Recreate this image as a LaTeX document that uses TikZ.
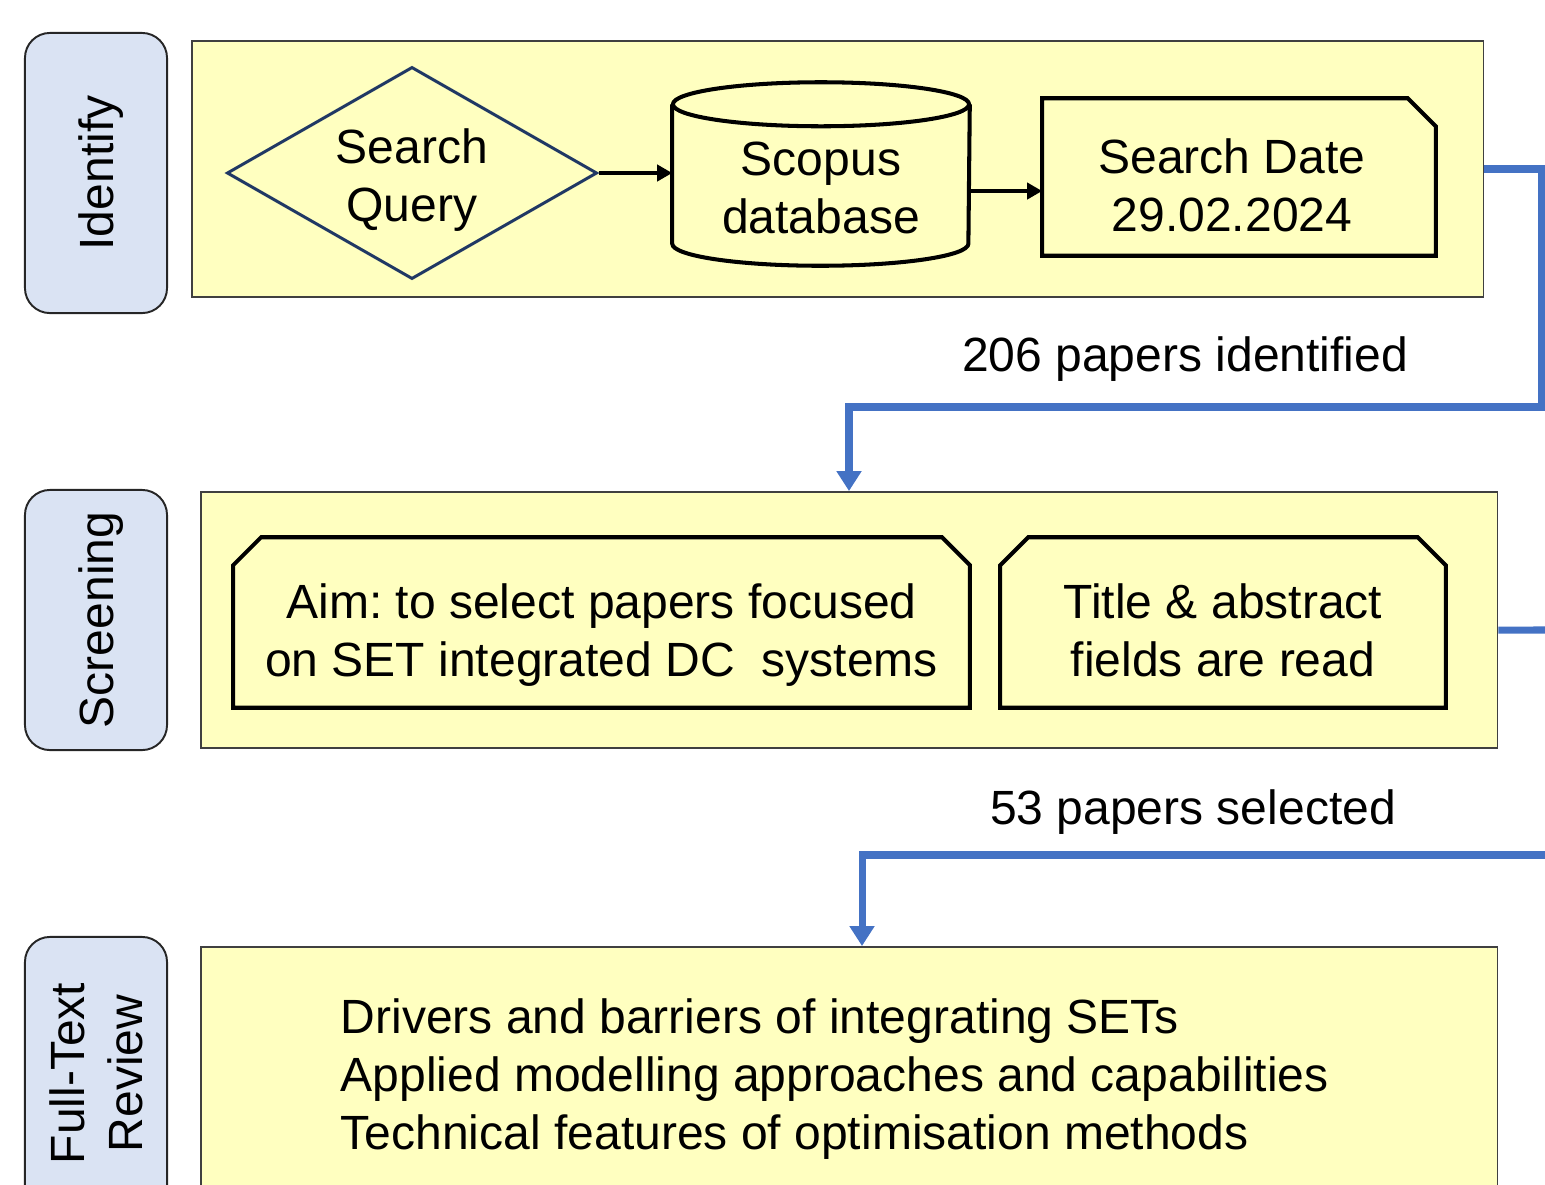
\documentclass[tikz,border=0pt]{standalone}
\usepackage{fontspec}
\setmainfont{Liberation Sans}
\usetikzlibrary{shapes.geometric,arrows.meta}
\definecolor{paneyellow}{HTML}{FFFFC0}
\definecolor{stageblue}{HTML}{DAE3F3}
\definecolor{flowblue}{HTML}{4472C4}
\definecolor{querynavy}{HTML}{203864}
\frenchspacing

\begin{document}
\begin{tikzpicture}[x=0.01cm,y=-0.01cm,
    every node/.style={font=\fontsize{13.66}{16.5}\selectfont},
    stage/.style={draw=black!85,line width=0.55pt,fill=stageblue,rounded corners=0.25cm,rotate=90,align=center,text depth=0pt,minimum height=1.42cm},
    panel/.style={draw=black!75,line width=0.5pt,fill=paneyellow,minimum height=2.56cm},
    boxline/.style={draw=black,line width=1.15pt,fill=paneyellow},
    link/.style={line width=1.1pt,-{Triangle[width=0.16cm,length=0.15cm]}},
    flow/.style={draw=flowblue,line width=2pt,-{Triangle[width=0.24cm,length=0.2cm]}}]
    \useasboundingbox (0,0) rectangle (1545,1184);
    \clip (0,0) rectangle (1545,1184);

    % stages on the left
    \node[stage,minimum width=2.8cm] (identify) at (96,173) {Identify};
    \node[stage,minimum width=2.6cm] (screening) at (96,620) {Screening};
    \node[stage,minimum width=2.73cm] (fulltext) at (96,1073.5) {Full-Text\\Review};

    % panels
    \node[panel,minimum width=12.91cm] (identpanel) at (837.5,169) {};
    \node[panel,minimum width=12.96cm] (screenpanel) at (849,620) {};
    \node[panel,minimum width=12.96cm,minimum height=3.03cm] (reviewpanel) at (849,1098.5) {};

    % identify
    \node[diamond,draw=querynavy,line width=0.85pt,fill=paneyellow,inner sep=0pt,
        minimum width=3.7cm,minimum height=2.12cm] (query) at (412,173) {};
    \node[align=center] at (412,180) {Search\\Query};
    \node[minimum width=2.96cm,minimum height=1.82cm,inner sep=0pt] (scopus) at (821,174) {};
    \draw[boxline] ([yshift=-0.22cm]scopus.north west)
        -- ([yshift=0.22cm]scopus.south west)
        arc[start angle=180,end angle=360,x radius=1.48cm,y radius=0.22cm]
        -- ([yshift=-0.22cm]scopus.north east);
    \draw[boxline] ([yshift=-0.22cm]scopus.north)
        ellipse[x radius=1.48cm,y radius=0.22cm];
    \node[align=center] at (821,188) {Scopus\\database};
    \node[minimum width=3.92cm,minimum height=1.56cm,inner sep=0pt] (date) at (1239,177) {};
    \draw[boxline] (date.south west) -- (date.north west)
        -- ([xshift=-0.28cm]date.north east) -- ([yshift=-0.28cm]date.north east)
        -- (date.south east) -- cycle;
    \node[align=center] at (1232,185) {Search Date\\29.02.2024};
    \draw[link] (query.east) -- (query.east -| scopus.west);
    \draw[link] ([yshift=-0.17cm]scopus.east) -- ([yshift=-0.17cm]scopus.east -| date.west);

    % screening
    \node[minimum width=7.35cm,minimum height=1.69cm,inner sep=0pt] (aim) at (601.5,622.5) {};
    \draw[boxline] (aim.south west) -- ([yshift=-0.28cm]aim.north west)
        -- ([xshift=0.28cm]aim.north west) -- ([xshift=-0.28cm]aim.north east)
        -- ([yshift=-0.28cm]aim.north east) -- (aim.south east) -- cycle;
    \node[align=center] at (601.5,635.5) {Aim: to select papers focused\\on SET integrated DC~ systems};
    \node[minimum width=4.44cm,minimum height=1.69cm,inner sep=0pt] (read) at (1223,622.5) {};
    \draw[boxline] (read.south west) -- ([yshift=-0.28cm]read.north west)
        -- ([xshift=0.28cm]read.north west) -- ([xshift=-0.28cm]read.north east)
        -- ([yshift=-0.28cm]read.north east) -- (read.south east) -- cycle;
    \node[align=center] at (1223,630.5) {Title \& abstract\\fields are read};

    % full-text review
    \node[align=left,anchor=west,inner sep=0pt] (topics) at (340,1079) {Drivers and barriers of integrating SETs\\Applied modelling approaches and capabilities\\Technical features of optimisation methods};

    % flow between stages
    \node (identified) at (1185,359) {206 papers identified};
    \node (selected) at (1193,812) {53 papers selected};
    \coordinate (turn1) at (1541,407);
    \coordinate (exit2) at (1560,630);
    \coordinate (entry3) at (1560,855);
    \draw[flow] (identpanel.east) -| (turn1) -| (screenpanel.north);
    \draw[flow,-] ([yshift=-0.1cm]screenpanel.east) -- (exit2);
    \draw[flow] (entry3) -| ([xshift=0.13cm]reviewpanel.north);
\end{tikzpicture}
\end{document}
